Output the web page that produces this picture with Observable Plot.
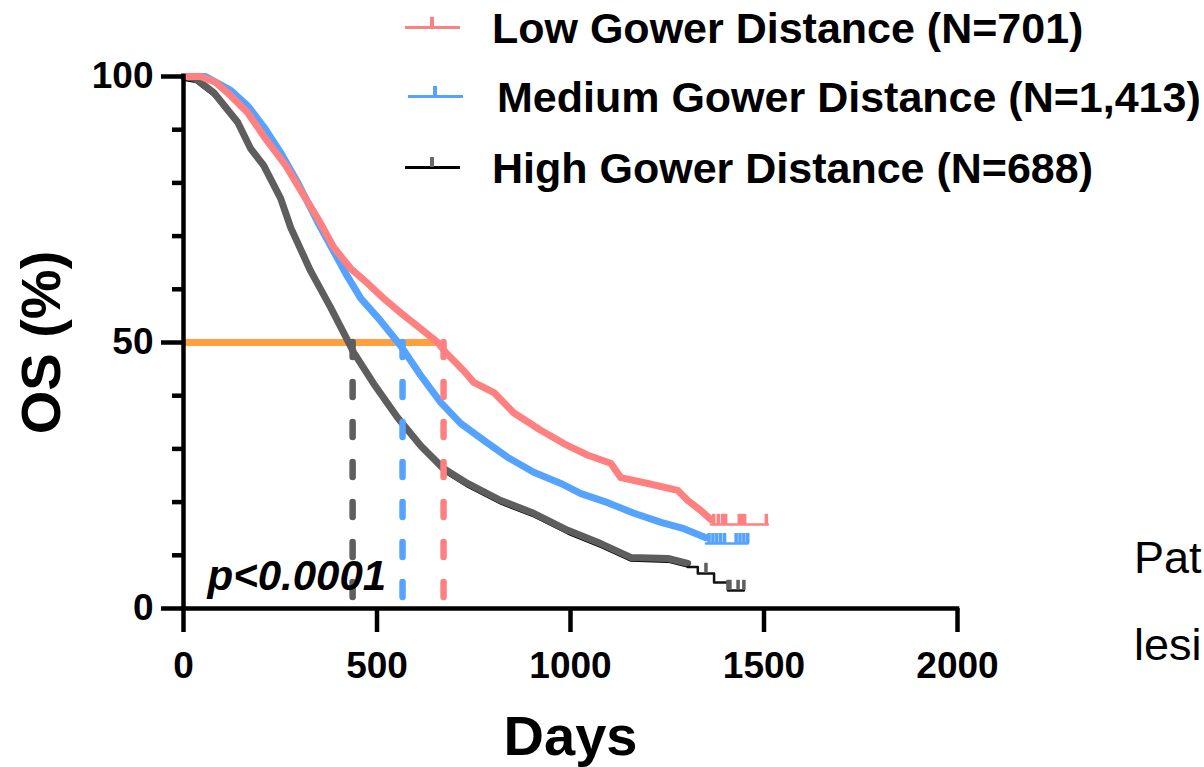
<!DOCTYPE html>
<html><head><meta charset="utf-8">
<script src="https://cdn.jsdelivr.net/npm/d3@7"></script>
<script src="https://cdn.jsdelivr.net/npm/@observablehq/plot@0.6"></script>
<style>
html,body{margin:0;padding:0;background:#fff;overflow:hidden;}
#wrap{position:relative;width:1204px;height:767px;overflow:hidden;font-family:"Liberation Sans",Arial,sans-serif;}
#chart{position:absolute;left:0;top:0;}
.lg{position:absolute;font-size:43px;font-weight:bold;line-height:1;white-space:nowrap;color:#000;}
.ls{position:absolute;}
.side{position:absolute;font-size:45px;line-height:1;white-space:nowrap;color:#000;}
[aria-label="x-axis label"], [aria-label="y-axis label"]{font-size:56px;}
</style></head><body>
<div id="wrap"><div id="chart"></div><div id="legend"></div><div id="side"></div></div>
<script>
// ---------- data ----------
const groups = ["Low Gower Distance (N=701)", "Medium Gower Distance (N=1,413)", "High Gower Distance (N=688)"];
const groupColors = ["#FF8080", "#55A3FF", "#5E5E5E"];
const tailColors = ["#FF8080", "#55A3FF", "#111111"];

const lowTime = [0,44,83,122,166,212,264,303,347,388,432,476,517,561,613,657,678,724,750,802,853,923,993,1045,1104,1130,1200,1277,1303,1337,1363];
const lowSurv = [100,100,98.9,96.4,93.2,88.3,83.3,78.6,73.3,67.9,63.9,61.1,58.3,55.6,52.6,50.0,48.1,44.7,42.5,40.6,36.8,33.5,30.6,28.8,27.3,24.6,23.5,22.2,20.3,18.4,16.7];
const lowTailTime = [1363,1510];
const lowTailSurv = [15.8,15.8];
const lowCensorTime = [1370,1382,1393,1401,1436,1443,1450,1506];
const lowCensorSurv = [15.8,15.8,15.8,15.8,15.8,15.8,15.8,15.8];

const medTime = [0,57,122,166,207,251,295,347,419,458,509,561,613,665,716,776,838,905,975,1027,1096,1164,1234,1293,1350];
const medSurv = [100,100,97.4,94.5,90.6,85.7,80.1,72.6,63.0,58.3,54.1,49.4,43.8,38.7,34.8,31.6,28.4,25.6,23.5,21.6,19.9,17.9,16.2,15.0,13.3];
const medTailTime = [1350,1458];
const medTailSurv = [12.2,12.2];
const medCensorTime = [1358,1368,1378,1388,1398,1428,1438,1448,1458];
const medCensorSurv = [12.2,12.2,12.2,12.2,12.2,12.2,12.2,12.2,12.2];

const highTime = [0,31,78,140,173,207,251,277,328,380,424,440,491,553,613,672,734,820,905,993,1078,1156,1252,1303];
const highSurv = [100,99.6,97.0,91.4,86.5,83.3,77.1,71.6,63.5,56.6,50.4,48.1,42.3,35.9,30.6,26.3,23.5,20.3,17.9,14.7,12.2,9.6,9.4,8.5];
const highTailTime = [1303,1329,1371,1407,1448];
const highTailSurv = [7.8,6.6,4.9,3.4,3.4];
const highCensorTime = [1350,1407,1412,1433,1448];
const highCensorSurv = [6.6,3.4,3.4,3.4,3.4];

const medianTime = [672, 566, 437];      // Low, Medium, High
const halfLineEnd = 659;                  // end of the 50% reference line (days)
const xTicks = [0,500,1000,1500,2000];
const yMajorTicks = [0,50,100];
const yMinorTicks = [10,20,30,40,60,70,80,90];
const pLabel = "p<0.0001";
const sideWords = ["Pat", "lesi"];

// ---------- tables ----------
const zip = (t, s) => t.map((d, i) => ({day: d, os: s[i]}));
const curves = [zip(lowTime, lowSurv), zip(medTime, medSurv), zip(highTime, highSurv)];
const tails = [zip(lowTailTime, lowTailSurv), zip(medTailTime, medTailSurv), zip(highTailTime, highTailSurv)];
const censors = [zip(lowCensorTime, lowCensorSurv), zip(medCensorTime, medCensorSurv), zip(highCensorTime, highCensorSurv)];

const order = [2, 1, 0]; // draw High, Medium, Low
const curveMarks = [];
curveMarks.push(Plot.line(curves[2], {x: "day", y: "os", stroke: "#000", strokeWidth: 1.6, dy: 3.6, strokeLinejoin: "round"}));
for (const i of order) {
  curveMarks.push(Plot.line(curves[i], {x: "day", y: "os", stroke: groupColors[i], strokeWidth: 7, strokeLinejoin: "round"}));
}
for (const i of order) {
  curveMarks.push(Plot.line(tails[i], {x: "day", y: "os", stroke: tailColors[i], strokeWidth: 2.5, curve: "step-after"}));
  curveMarks.push(Plot.ruleX(censors[i], {x: "day", y1: "os", y2: d => d.os + 1.9, stroke: groupColors[i], strokeWidth: 3.5}));
}
const medianMarks = [2, 1, 0].map(i =>
  Plot.ruleX([medianTime[i]], {y1: 50, y2: 1.7, stroke: groupColors[i], strokeWidth: 6.5, strokeDasharray: "15,25", strokeLinecap: "round"})
);

const chart = Plot.plot({
  width: 1204, height: 767,
  marginLeft: 183, marginRight: 247, marginTop: 76, marginBottom: 159,
  x: {domain: [0, 2000]},
  y: {domain: [0, 100]},
  style: {fontFamily: "'Liberation Sans', Arial, sans-serif", fontWeight: "bold", color: "#000", background: "#fff", overflow: "visible"},
  marks: [
    Plot.ruleY([50], {x1: 0, x2: halfLineEnd, stroke: "#FFA040", strokeWidth: 7}),
    ...curveMarks,
    ...medianMarks,
    Plot.text([pLabel], {frameAnchor: "bottom-left", dx: 24, dy: -32, textAnchor: "start", lineAnchor: "middle", fontSize: 42, fontStyle: "italic", fontWeight: "bold", fill: "#000"}),
    Plot.axisY({ticks: yMinorTicks, tickSize: 11, strokeWidth: 4.5, tickFormat: () => "", label: null}),
    Plot.axisY({ticks: yMajorTicks, tickSize: 22, tickPadding: 8, strokeWidth: 4.5, fontSize: 37, fontWeight: "bold", tickFormat: d3.format("d"), label: "OS (%)", labelAnchor: "center", labelOffset: 163, labelArrow: "none"}),
    Plot.axisX({ticks: xTicks, tickSize: 24, tickPadding: 19, strokeWidth: 4.5, fontSize: 37, fontWeight: "bold", tickFormat: d3.format("d"), label: "Days", labelAnchor: "center", labelOffset: 146, labelArrow: "none"}),
    Plot.ruleX([0], {y1: 0, y2: 100, strokeWidth: 4.5, strokeLinecap: "square", stroke: "#000"}),
    Plot.ruleY([0], {x1: 0, x2: 2000, strokeWidth: 4.5, strokeLinecap: "square", stroke: "#000"})
  ]
});
document.getElementById("chart").appendChild(chart);

// ---------- legend ----------
const legend = document.getElementById("legend");
const rowTop = [6.6, 75.6, 146.6];
const rowLeft = [492, 497, 492];
const lineLeft = [405, 408, 405];
const lineY = [26, 95, 166];
const tickColor = ["#FF8080", "#55A3FF", "#6A6A6A"];
const lineColor = ["#FF8080", "#55A3FF", "#000000"];
groups.forEach((g, i) => {
  const ln = document.createElement("div");
  ln.className = "ls";
  Object.assign(ln.style, {left: lineLeft[i] + "px", top: lineY[i] + "px", width: "55px", height: "3px", background: lineColor[i]});
  legend.appendChild(ln);
  const tk = document.createElement("div");
  tk.className = "ls";
  Object.assign(tk.style, {left: (lineLeft[i] + 25) + "px", top: (lineY[i] - 9) + "px", width: "4px", height: "10px", background: tickColor[i]});
  legend.appendChild(tk);
  const lb = document.createElement("div");
  lb.className = "lg";
  lb.textContent = g;
  Object.assign(lb.style, {left: rowLeft[i] + "px", top: rowTop[i] + "px"});
  legend.appendChild(lb);
});

// ---------- side text ----------
const side = document.getElementById("side");
const sideTop = [535, 622];
sideWords.forEach((w, i) => {
  const s = document.createElement("div");
  s.className = "side";
  s.textContent = w;
  Object.assign(s.style, {left: "1134px", top: sideTop[i] + "px"});
  side.appendChild(s);
});
</script>
</body></html>
